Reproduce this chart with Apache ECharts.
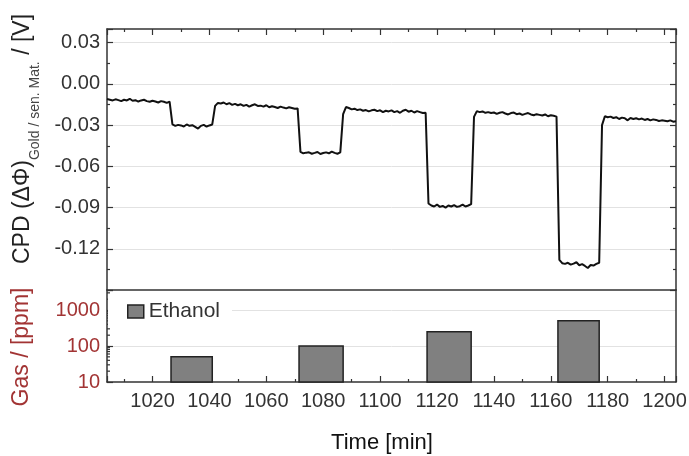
<!DOCTYPE html>
<html><head><meta charset="utf-8">
<script src="https://cdn.jsdelivr.net/npm/echarts@6/dist/echarts.min.js"></script>
<style>html,body{margin:0;padding:0;background:#fff}#c{width:689px;height:456px}</style>
</head><body><div id="c"></div>
<script>
// ---- data ----
const startTime = 1004; // first sample (min), one sample per minute
const cpdValues = [
  // 1004-1026
  -0.011,-0.0115,-0.012,-0.0112,-0.0118,-0.0125,-0.0115,-0.012,-0.0108,-0.0122,-0.0118,-0.0128,-0.012,-0.0115,-0.0125,-0.013,-0.0122,-0.0128,-0.0135,-0.0125,-0.013,-0.0138,-0.0128,
  // 1027-1041
  -0.0295,-0.0305,-0.0298,-0.0302,-0.031,-0.0295,-0.0305,-0.030,-0.0312,-0.0325,-0.0305,-0.0298,-0.031,-0.0302,-0.0295,
  // 1042-1071
  -0.016,-0.0138,-0.0142,-0.0135,-0.0148,-0.014,-0.0152,-0.0145,-0.0155,-0.0148,-0.016,-0.0152,-0.0165,-0.0155,-0.0148,-0.016,-0.0158,-0.0165,-0.0155,-0.017,-0.0162,-0.0168,-0.0175,-0.0165,-0.0172,-0.0178,-0.017,-0.0175,-0.018,-0.0178,
  // 1072-1086
  -0.0495,-0.0505,-0.050,-0.0498,-0.0508,-0.0502,-0.0495,-0.051,-0.0503,-0.0498,-0.0505,-0.0492,-0.0502,-0.0508,-0.0498,
  // 1087-1116
  -0.022,-0.0168,-0.0175,-0.0185,-0.018,-0.019,-0.0185,-0.0195,-0.019,-0.020,-0.0192,-0.0188,-0.0198,-0.0192,-0.0205,-0.0195,-0.020,-0.0192,-0.0205,-0.0198,-0.021,-0.0195,-0.0188,-0.0202,-0.0195,-0.0208,-0.0198,-0.0205,-0.0212,-0.021,
  // 1117-1132
  -0.087,-0.0885,-0.0892,-0.0878,-0.0895,-0.0888,-0.090,-0.0885,-0.0892,-0.0882,-0.0895,-0.089,-0.0878,-0.0892,-0.0885,-0.0875,
  // 1133-1162
  -0.024,-0.0198,-0.0205,-0.020,-0.021,-0.0205,-0.0212,-0.0208,-0.0218,-0.021,-0.0205,-0.0215,-0.0222,-0.0212,-0.0208,-0.022,-0.0215,-0.0225,-0.0218,-0.0212,-0.0222,-0.0228,-0.022,-0.0225,-0.023,-0.0222,-0.0235,-0.0228,-0.0232,-0.0238,
  // 1163-1177
  -0.128,-0.1305,-0.131,-0.1302,-0.1315,-0.1308,-0.1298,-0.132,-0.1312,-0.1325,-0.134,-0.1318,-0.1322,-0.131,-0.1302,
  // 1178-1204
  -0.030,-0.0235,-0.0242,-0.0238,-0.0248,-0.0242,-0.0255,-0.0245,-0.025,-0.0265,-0.0248,-0.0255,-0.025,-0.0258,-0.0252,-0.0262,-0.0255,-0.0265,-0.0258,-0.0262,-0.027,-0.0265,-0.0268,-0.0272,-0.0265,-0.0275,-0.0272
];
const gasName = 'Ethanol';
const gasStart = [1026.5, 1071.5, 1116.5, 1162.5];
const gasEnd   = [1041, 1087, 1132, 1177];
const gasPpm   = [50, 100, 250, 500];

const timeTicks = [1020,1040,1060,1080,1100,1120,1140,1160,1180,1200];
const cpdTicks = [-0.12,-0.09,-0.06,-0.03,0,0.03];
const gasTicks = [10,100,1000];
const gasMinorTicks = [20,30,40,50,60,70,80,90,200,300,400,500,600,700,800,900,2000,3000];

// ---- chart ----
const FONT = '"Liberation Sans", Arial, Helvetica, sans-serif';
const DARK = '#333';
const RED = '#a23434';
const X_MIN = 1004, X_MAX = 1204;
const Y_MIN = -0.15, Y_MAX = 0.04;
const G_MIN = 10, G_MAX = 3600;
const frameLine = {show: true, onZero: false, lineStyle: {color: DARK, width: 1.5}};
const majTick = {show: true, inside: true, length: 6, lineStyle: {color: DARK, width: 1.2}};
const minTick = {show: true, splitNumber: 2, length: 3, lineStyle: {color: DARK, width: 1.2}};
const noTick = {show: false};
const noMinor = {show: false};
const noLabel = {show: false};
const noSplit = {show: false};
const gridLine = {show: true, showMinLine: false, showMaxLine: false, lineStyle: {color: '#e2e2e2', width: 1}};

const xBase = {type: 'value', min: X_MIN, max: X_MAX, splitNumber: 10};
const yBase = {type: 'value', min: Y_MIN, max: Y_MAX, splitNumber: 6};
const gBase = {type: 'log', logBase: 10, min: G_MIN, max: G_MAX};

const chart = echarts.init(document.getElementById('c'), null, {renderer: 'canvas'});
const option = {
  animation: false,
  backgroundColor: '#fff',
  textStyle: {fontFamily: FONT},
  grid: [
    {left: 107, top: 29, width: 569, height: 261, outerBoundsMode: 'none'},
    {left: 107, top: 290, width: 569, height: 92, outerBoundsMode: 'none'}
  ],
  xAxis: [
    Object.assign({gridIndex: 0, position: 'top', axisLine: frameLine, axisTick: majTick, minorTick: minTick, axisLabel: noLabel, splitLine: noSplit}, xBase),
    Object.assign({gridIndex: 0, position: 'bottom', axisLine: frameLine, axisTick: noTick, minorTick: noMinor, axisLabel: noLabel, splitLine: noSplit}, xBase),
    Object.assign({gridIndex: 1, position: 'bottom', axisLine: frameLine, axisTick: majTick, minorTick: minTick,
      axisLabel: {show: true, customValues: timeTicks, margin: 9, fontSize: 20, color: DARK, fontFamily: FONT, formatter: v => String(Math.round(v))},
      splitLine: noSplit}, xBase)
  ],
  yAxis: [
    Object.assign({gridIndex: 0, position: 'left', axisLine: frameLine, axisTick: majTick, minorTick: minTick,
      axisLabel: {show: true, customValues: cpdTicks, margin: 7, fontSize: 20, color: DARK, fontFamily: FONT, formatter: v => (+v).toFixed(2)},
      splitLine: gridLine}, yBase),
    Object.assign({gridIndex: 0, position: 'right', axisLine: frameLine, axisTick: majTick, minorTick: minTick, axisLabel: noLabel, splitLine: noSplit}, yBase),
    Object.assign({gridIndex: 1, position: 'left', axisLine: frameLine, axisTick: majTick, minorTick: noMinor,
      axisLabel: {show: true, customValues: gasTicks, margin: 7, fontSize: 20, color: RED, fontFamily: FONT, formatter: v => String(Math.round(v))},
      splitLine: gridLine}, gBase),
    Object.assign({gridIndex: 1, position: 'right', axisLine: frameLine, axisTick: noTick, minorTick: noMinor, axisLabel: noLabel, splitLine: noSplit}, gBase)
  ],
  legend: {
    data: [{name: gasName, icon: 'rect'}],
    left: 108, top: 298, padding: [3, 12, 3, 19],
    backgroundColor: '#fff',
    itemWidth: 16, itemHeight: 13,
    itemStyle: {color: '#808080', borderColor: '#222', borderWidth: 1.5},
    textStyle: {fontSize: 21, color: DARK, fontFamily: FONT},
    selectedMode: false
  },
  series: [
    {
      type: 'line', xAxisIndex: 0, yAxisIndex: 0, showSymbol: false, symbol: 'none',
      data: cpdValues.map((v, i) => [startTime + i, v]),
      lineStyle: {color: '#111', width: 2}, itemStyle: {color: '#111'}, z: 3
    },
    {
      type: 'custom', name: gasName, xAxisIndex: 2, yAxisIndex: 2,
      itemStyle: {color: '#808080', borderColor: '#222', borderWidth: 1.5},
      encode: {x: [0, 1], y: 2},
      data: gasStart.map((s, i) => [s, gasEnd[i], gasPpm[i]]),
      renderItem: (params, api) => {
        const p0 = api.coord([api.value(0), G_MIN]);
        const p1 = api.coord([api.value(1), api.value(2)]);
        return {
          type: 'rect',
          shape: {x: p0[0], y: p1[1], width: p1[0] - p0[0], height: p0[1] - p1[1]},
          style: {fill: '#808080', stroke: '#222', lineWidth: 1.5}
        };
      }
    },
    {
      // logarithmic minor ticks on the ppm axis
      type: 'custom', xAxisIndex: 2, yAxisIndex: 2, silent: true, clip: false,
      encode: {y: 0},
      data: gasMinorTicks.map(v => [v]),
      renderItem: (params, api) => {
        const p = api.coord([X_MIN, api.value(0)]);
        return {
          type: 'line',
          shape: {x1: p[0], y1: p[1], x2: p[0] + 3, y2: p[1]},
          style: {stroke: DARK, lineWidth: 1.2}
        };
      }
    }
  ],
  graphic: [
    {
      type: 'text', x: 23, y: 139, rotation: Math.PI / 2,
      style: {
        text: '{m|CPD (ΔΦ)}{s|Gold / sen. Mat.}{m| / [V]}',
        align: 'center', verticalAlign: 'middle',
        rich: {
          m: {fontSize: 23, fontFamily: FONT, fill: '#222', color: '#222'},
          s: {fontSize: 14, fontFamily: FONT, fill: '#444', color: '#444', padding: [24, 0, 0, 0]}
        }
      }
    },
    {
      type: 'text', x: 22, y: 347, rotation: Math.PI / 2,
      style: {text: 'Gas / [ppm]', align: 'center', verticalAlign: 'middle', font: '23px ' + FONT, fill: RED}
    },
    {
      type: 'text', x: 382, y: 443,
      style: {text: 'Time [min]', align: 'center', verticalAlign: 'middle', font: '22px ' + FONT, fill: '#111'}
    }
  ]
};
chart.setOption(option);
</script>
</body></html>
